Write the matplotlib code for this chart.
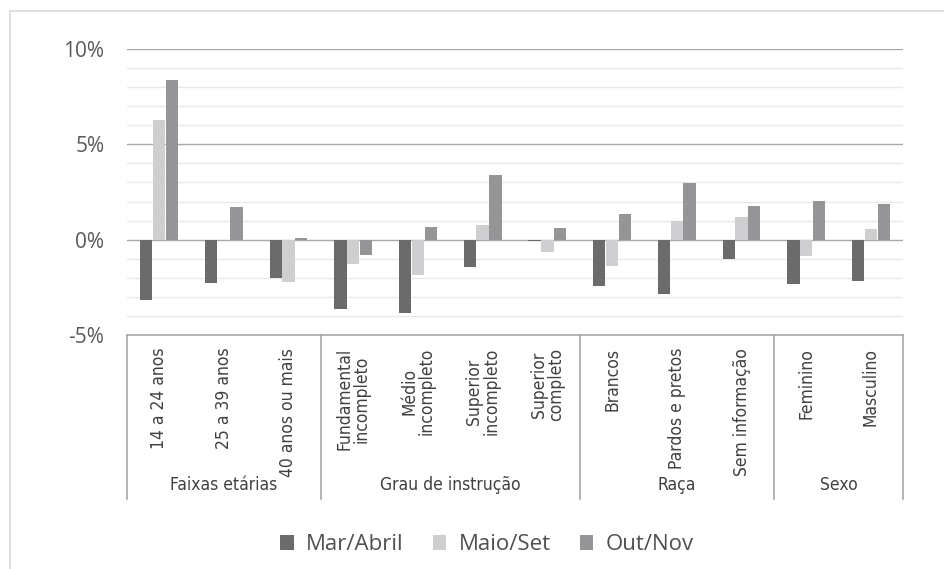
import matplotlib.pyplot as plt
import matplotlib.transforms as mtransforms
from matplotlib import font_manager
from matplotlib.patches import Patch, Rectangle
import numpy as np

# --- Data (variação, em %) ---
groups = ["Faixas etárias", "Grau de instrução", "Raça", "Sexo"]
group_sizes = [3, 4, 3, 2]
categories = [
    "14 a 24 anos", "25 a 39 anos", "40 anos ou mais",
    "Fundamental\nincompleto", "Médio\nincompleto", "Superior\nincompleto", "Superior\ncompleto",
    "Brancos", "Pardos e pretos", "Sem informação",
    "Feminino", "Masculino",
]
series_names = ["Mar/Abril", "Maio/Set", "Out/Nov"]
mar_abril = [-3.15, -2.28, -2.0, -3.65, -3.87, -1.45, -0.05, -2.45, -2.87, -1.0, -2.31, -2.18]
maio_set = [6.25, 0.0, -2.2, -1.3, -1.85, 0.75, -0.63, -1.4, 0.98, 1.17, -0.86, 0.56]
out_nov = [8.4, 1.7, 0.1, -0.82, 0.67, 3.38, 0.63, 1.33, 2.98, 1.77, 2.01, 1.87]
yticks = [-5, 0, 5, 10]

colors = ["#6b6b6b", "#cfcfd1", "#959597"]
reg_font = ["Open Sans", "DejaVu Sans"]

# pick a narrow font for the category labels, if one is around
cond_props = dict(fontfamily=["Roboto", "DejaVu Sans"], fontsize=10.5)
for fam, stretch in [("Liberation Sans Narrow", "normal"), ("DejaVu Sans", "condensed")]:
    try:
        path = font_manager.findfont(font_manager.FontProperties(family=fam, stretch=stretch),
                                     fallback_to_default=False)
    except ValueError:
        continue
    if "Narrow" in path or "Condensed" in path:
        cond_props = dict(fontfamily=[fam, "DejaVu Sans"], fontstretch=stretch, fontsize=12.5)
        break

fig = plt.figure(figsize=(9.44, 5.69), dpi=100)
ax = fig.add_axes([126.7 / 944, 1 - 335 / 569, (903.3 - 126.7) / 944, 286 / 569])

# outer chart frame (left and top edges visible)
fig.add_artist(Rectangle((10 / 944, -0.1), 1.2, 1 - 11 / 569 + 0.1, transform=fig.transFigure,
                         fill=False, edgecolor="#d9d9d9", linewidth=1.2))

x = np.arange(len(categories))
width = 0.19
offset = 0.197
for i, (vals, name) in enumerate(zip([mar_abril, maio_set, out_nov], series_names)):
    ax.bar(x + (i - 1) * offset, vals, width, color=colors[i], label=name, zorder=3)

# grid: minor every 1%, major every 5%
ax.set_ylim(-5, 10)
ax.set_xlim(-0.5, len(categories) - 0.5)
for v in range(-4, 10):
    if v % 5 != 0:
        ax.axhline(v, color="#e8e8e8", linewidth=1, zorder=1)
for v in yticks[1:]:
    ax.axhline(v, color="#a8a8a8", linewidth=1, zorder=2)

ax.set_yticks(yticks)
ax.set_yticklabels([f"{v}%" for v in yticks], fontfamily=reg_font, fontsize=15, color="#595959")
ax.tick_params(axis="y", length=0, pad=16)
ax.set_xticks([])
for s in ax.spines.values():
    s.set_visible(False)

# multi-level category table under the axis
trans = mtransforms.blended_transform_factory(ax.transData, ax.transAxes)
line_kw = dict(color="#a0a0a0", linewidth=1.1, clip_on=False)
ax.plot([-0.5, len(categories) - 0.5], [0, 0], transform=trans, **line_kw)
bounds = np.concatenate([[0], np.cumsum(group_sizes)]) - 0.5
for b in bounds:
    ax.plot([b, b], [0, -0.573], transform=trans, **line_kw)

for xi, lab in zip(x, categories):
    ax.text(xi, -0.045, lab, transform=trans, rotation=90, ha="center", va="top",
            multialignment="center", color="#404040", linespacing=0.95, **cond_props)

for g, lo, hi in zip(groups, bounds[:-1], bounds[1:]):
    ax.text((lo + hi) / 2, -0.524, g, transform=trans, ha="center", va="center",
            color="#404040", **cond_props)

handles = [Patch(facecolor=c) for c in colors]
fig.legend(handles, series_names, loc="center", bbox_to_anchor=(487 / 944, 1 - 545 / 569),
           ncol=3, frameon=False, prop={"family": reg_font, "size": 16},
           labelcolor="#505050", handlelength=0.62, handleheight=0.62,
           handletextpad=0.55, columnspacing=1.3)

fig.savefig("out.png", dpi=100)
